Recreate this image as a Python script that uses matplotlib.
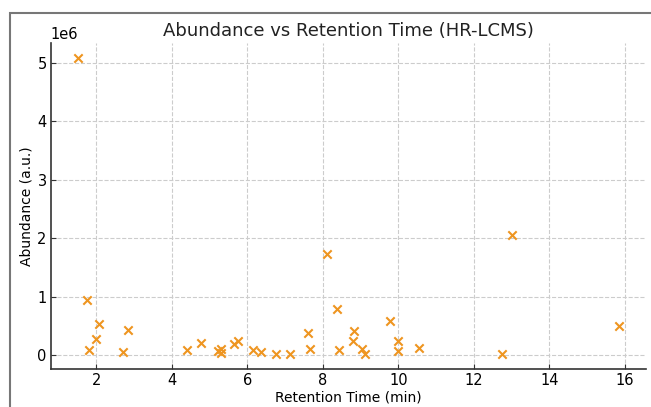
import matplotlib
matplotlib.use("Agg")
import matplotlib.pyplot as plt
from matplotlib.patches import Rectangle

# retention time (min) and abundance (a.u.)
rt = [1.51, 1.75, 1.80, 2.00, 2.06, 2.72, 2.83, 4.39, 4.78, 5.23, 5.29, 5.29,
      5.64, 5.75, 6.16, 6.37, 6.76, 7.12, 7.60, 7.65, 8.11, 8.38, 8.43, 8.81,
      8.83, 9.03, 9.13, 9.77, 9.99, 10.00, 10.55, 12.76, 13.01, 15.84]
abundance = [5.08e6, 0.94e6, 0.085e6, 0.27e6, 0.54e6, 0.05e6, 0.43e6, 0.08e6,
             0.21e6, 0.07e6, 0.10e6, 0.03e6, 0.19e6, 0.24e6, 0.085e6, 0.06e6,
             0.02e6, 0.02e6, 0.37e6, 0.11e6, 1.73e6, 0.79e6, 0.08e6, 0.245e6,
             0.42e6, 0.10e6, 0.02e6, 0.59e6, 0.07e6, 0.24e6, 0.13e6, 0.02e6,
             2.05e6, 0.50e6]

fig = plt.figure(figsize=(6.51, 4.07), dpi=100)
ax = fig.add_axes([0.078, 0.094, 0.914, 0.800])

# frame around the whole figure
fig.patches.append(Rectangle((10 / 651, -0.1), 1.2, 1 - 13 / 407 + 0.1,
                             transform=fig.transFigure, fill=False,
                             edgecolor='#777777', linewidth=1.5))

ax.scatter(rt, abundance, marker='x', color='#ee9520', s=36, linewidths=1.5, zorder=3)

ax.set_title('Abundance vs Retention Time (HR-LCMS)', fontsize=13, color='#222222', pad=5)
ax.set_xlabel('Retention Time (min)', fontsize=10, labelpad=2)
ax.set_ylabel('Abundance (a.u.)', fontsize=10, labelpad=3)
ax.tick_params(labelsize=10.5, length=3.5, direction='in', pad=3, color='#333333')
ax.yaxis.get_offset_text().set_fontsize(10.5)

ax.grid(True, linestyle='--', color='#cccccc', linewidth=0.8)
ax.set_axisbelow(True)
for side in ['top', 'right']:
    ax.spines[side].set_visible(False)
for side in ['left', 'bottom']:
    ax.spines[side].set_color('#333333')
    ax.spines[side].set_linewidth(1.2)

fig.savefig('out.png', dpi=100)
